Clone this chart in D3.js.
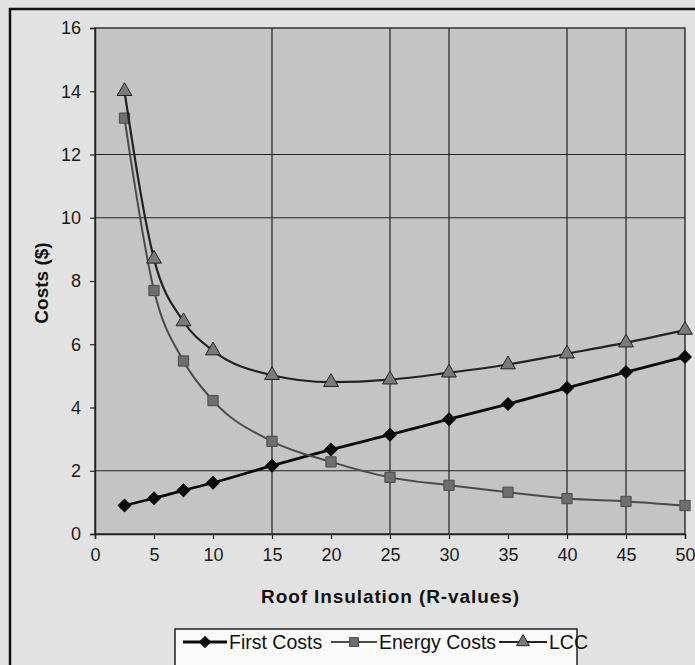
<!DOCTYPE html>
<html><head><meta charset="utf-8">
<script src="https://cdn.jsdelivr.net/npm/d3@7/dist/d3.min.js"></script>
<style>body{margin:0;background:#e2e2e2;}svg{display:block;font-family:"Liberation Sans",Arial,sans-serif;}</style>
</head><body><svg id="c" width="695" height="665"></svg>
<script>
const rValues = [2.5, 5, 7.5, 10, 15, 20, 25, 30, 35, 40, 45, 50];
const firstCosts = [0.9, 1.13, 1.38, 1.62, 2.16, 2.67, 3.14, 3.63, 4.11, 4.62, 5.12, 5.6];
const energyCosts = [13.15, 7.7, 5.47, 4.22, 2.93, 2.28, 1.79, 1.54, 1.32, 1.12, 1.03, 0.9];
const lccCosts = [14.0, 8.7, 6.72, 5.8, 5.02, 4.8, 4.88, 5.1, 5.36, 5.7, 6.05, 6.45];
const xTicks = [0, 5, 10, 15, 20, 25, 30, 35, 40, 45, 50];
const yTicks = [0, 2, 4, 6, 8, 10, 12, 14, 16];
const xGrid = [15, 25, 30, 40, 45];
const yGrid = [2, 10, 12];
const seriesNames = ["First Costs", "Energy Costs", "LCC"];

const svg = d3.select("#c");
const x = d3.scaleLinear().domain([0, 50]).range([95, 685]);
const y = d3.scaleLinear().domain([0, 16]).range([534, 28]);
const FONT = "'Liberation Sans', Arial, sans-serif";

// chart-area border
svg.append("rect").attr("x", 10).attr("y", 9).attr("width", 700).attr("height", 680)
  .attr("fill", "#e2e2e2").attr("stroke", "#111").attr("stroke-width", 2.5);

// plot area
svg.append("rect").attr("x", x(0)).attr("y", y(16)).attr("width", x(50) - x(0)).attr("height", y(0) - y(16))
  .attr("fill", "#c4c4c4").attr("stroke", "#333").attr("stroke-width", 1.5);

// gridlines
svg.append("g").selectAll("line").data(xGrid).join("line")
  .attr("x1", d => x(d)).attr("x2", d => x(d)).attr("y1", y(0)).attr("y2", y(16))
  .attr("stroke", "#222").attr("stroke-width", 1.2);
svg.append("g").selectAll("line").data(yGrid).join("line")
  .attr("x1", x(0)).attr("x2", x(50)).attr("y1", d => y(d)).attr("y2", d => y(d))
  .attr("stroke", "#222").attr("stroke-width", 1.2);

// axes
const xAxis = svg.append("g").attr("transform", `translate(0,${y(0)})`)
  .call(d3.axisBottom(x).tickValues(xTicks).tickSize(5).tickPadding(9));
const yAxis = svg.append("g").attr("transform", `translate(${x(0)},0)`)
  .call(d3.axisLeft(y).tickValues(yTicks).tickSize(5).tickPadding(9));
[xAxis, yAxis].forEach(a => {
  a.attr("font-size", null).attr("font-family", null);
  a.select(".domain").attr("stroke", "#222").attr("stroke-width", 1.5);
  a.selectAll(".tick line").attr("stroke", "#222").attr("stroke-width", 1.2);
  a.selectAll(".tick text").attr("fill", "#1a1a1a").style("font-size", "18px").style("font-family", FONT);
});

// axis titles
svg.append("text").attr("x", 390).attr("y", 603).attr("text-anchor", "middle")
  .attr("font-size", 19).attr("font-weight", "bold").attr("fill", "#111")
  .attr("textLength", 258).attr("lengthAdjust", "spacing")
  .text("Roof Insulation (R-values)");
svg.append("text").attr("transform", "translate(48,283) rotate(-90)").attr("text-anchor", "middle")
  .attr("font-size", 19).attr("font-weight", "bold").attr("fill", "#111")
  .text("Costs ($)");

const styles = [
  {stroke: "#0a0a0a", width: 2.8, marker: d3.symbolSquare, rot: 45, size: 80, fill: "#0a0a0a"},
  {stroke: "#4a4a4a", width: 2, marker: d3.symbolSquare, rot: 0, size: 105, fill: "#6e6e6e"},
  {stroke: "#222", width: 2.2, marker: d3.symbolTriangle, rot: 0, size: 95, fill: "#7a7a7a"}
];
const allSeries = [firstCosts, energyCosts, lccCosts];
const line = d3.line().x((d, i) => x(rValues[i])).y(d => y(d)).curve(d3.curveMonotoneX);

allSeries.forEach((vals, k) => {
  const s = styles[k];
  svg.append("path").datum(vals).attr("d", line).attr("fill", "none")
    .attr("stroke", s.stroke).attr("stroke-width", s.width);
  svg.append("g").selectAll("path").data(vals).join("path")
    .attr("transform", (d, i) => `translate(${x(rValues[i])},${y(d)}) rotate(${s.rot})`)
    .attr("d", d3.symbol().type(s.marker).size(s.size))
    .attr("fill", s.fill).attr("stroke", s.stroke).attr("stroke-width", 1);
});

// legend
const lg = svg.append("g");
lg.append("rect").attr("x", 175).attr("y", 629).attr("width", 402).attr("height", 50)
  .attr("fill", "#fafafa").attr("stroke", "#222").attr("stroke-width", 1.5);
const legendPos = [183, 331, 499];
const legendLen = [44, 46, 48];
seriesNames.forEach((name, k) => {
  const s = styles[k];
  const x0 = legendPos[k];
  lg.append("line").attr("x1", x0).attr("x2", x0 + legendLen[k]).attr("y1", 642).attr("y2", 642)
    .attr("stroke", s.stroke).attr("stroke-width", s.width);
  lg.append("path").attr("transform", `translate(${x0 + legendLen[k] / 2},642) rotate(${s.rot})`)
    .attr("d", d3.symbol().type(s.marker).size(s.size * 0.75))
    .attr("fill", s.fill).attr("stroke", s.stroke).attr("stroke-width", 1);
  lg.append("text").attr("x", x0 + legendLen[k] + 2).attr("y", 649).attr("font-size", 19.5).attr("fill", "#111")
    .text(name);
});
</script></body></html>
